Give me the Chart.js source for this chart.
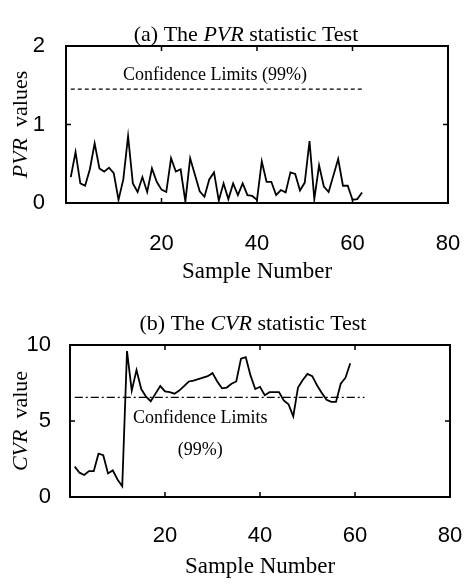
<!DOCTYPE html>
<html>
<head>
<meta charset="utf-8">
<script src="https://cdn.jsdelivr.net/npm/chart.js@4/dist/chart.umd.min.js"></script>
<style>
  body { margin: 0; background: #fff; }
  .panel { position: absolute; left: 0; }
</style>
</head>
<body>
<div class="panel" style="top:0"><canvas id="pvrChart" width="467" height="292"></canvas></div>
<div class="panel" style="top:292px"><canvas id="cvrChart" width="467" height="293"></canvas></div>
<script>
// PVR statistic per sample (panel a)
const pvrValues = [0.33, 0.65, 0.25, 0.22, 0.43, 0.76, 0.44, 0.40, 0.45, 0.38,
  0.04, 0.30, 0.85, 0.25, 0.14, 0.33, 0.14, 0.44, 0.27, 0.17,
  0.14, 0.57, 0.40, 0.43, 0.02, 0.57, 0.36, 0.15, 0.08, 0.30,
  0.39, 0.03, 0.25, 0.05, 0.25, 0.10, 0.25, 0.10, 0.09, 0.04,
  0.53, 0.27, 0.27, 0.10, 0.165, 0.135, 0.39, 0.37, 0.16, 0.26,
  0.79, 0.05, 0.48, 0.21, 0.14, 0.35, 0.56, 0.22, 0.22, 0.04,
  0.05, 0.135];

// CVR statistic per sample (panel b)
const cvrValues = [2.0, 1.6, 1.45, 1.7, 1.7, 2.85, 2.75, 1.55, 1.75, 1.15,
  0.7, 9.6, 7.0, 8.35, 7.1, 6.6, 6.3, 6.8, 7.3, 6.95,
  6.9, 6.8, 7.0, 7.3, 7.6, 7.65, 7.75, 7.85, 7.95, 8.15,
  7.6, 7.15, 7.2, 7.45, 7.6, 9.1, 9.2, 8.0, 7.1, 7.25,
  6.7, 6.9, 6.9, 6.9, 6.35, 6.1, 5.3, 7.2, 7.7, 8.1,
  7.95, 7.35, 6.85, 6.4, 6.26, 6.26, 7.45, 7.85, 8.8];

// 99% confidence limits and the sample span they cover
const pvrLimit = 1.45;
const cvrLimit = 6.55;
const limitSpan = [1, 62];

// axis ranges / ticks
const xTicks = [0, 20, 40, 60, 80];
const pvrTicks = [0, 1, 2];
const cvrTicks = [0, 5, 10];

const SERIF = '"Liberation Serif", "Times New Roman", serif';
const SANS = '"Liberation Sans", Arial, sans-serif';

// draw a line of text made of normal / italic parts, centred on (x, y)
function drawRich(ctx, parts, x, y, size, rotation) {
  ctx.save();
  ctx.translate(x, y);
  if (rotation) ctx.rotate(rotation);
  ctx.fillStyle = '#000';
  ctx.textBaseline = 'alphabetic';
  ctx.textAlign = 'left';
  const fontFor = (it) => (it ? 'italic ' : '') + size + 'px ' + SERIF;
  let total = 0;
  parts.forEach(([t, it]) => { ctx.font = fontFor(it); total += ctx.measureText(t).width; });
  let cx = -total / 2;
  parts.forEach(([t, it]) => {
    ctx.font = fontFor(it);
    ctx.fillText(t, cx, 0);
    cx += ctx.measureText(t).width;
  });
  ctx.restore();
}

// MATLAB-like box with inward ticks, plus the panel texts
const matlabFrame = {
  id: 'matlabFrame',
  afterDatasetsDraw(chart, args, opts) {
    const { ctx, chartArea: a, scales: { x, y } } = chart;
    ctx.save();
    ctx.strokeStyle = '#000';
    ctx.lineWidth = 1.5;
    ctx.beginPath();
    x.ticks.forEach(t => {
      const px = x.getPixelForValue(t.value);
      ctx.moveTo(px, a.bottom); ctx.lineTo(px, a.bottom - 5);
      ctx.moveTo(px, a.top); ctx.lineTo(px, a.top + 5);
    });
    y.ticks.forEach(t => {
      const py = y.getPixelForValue(t.value);
      ctx.moveTo(a.left, py); ctx.lineTo(a.left + 5, py);
      ctx.moveTo(a.right, py); ctx.lineTo(a.right - 5, py);
    });
    ctx.stroke();
    ctx.lineWidth = 2;
    ctx.strokeRect(a.left, a.top, a.right - a.left, a.bottom - a.top);
    ctx.restore();

    // panel title and y axis title
    drawRich(ctx, opts.title, opts.titleX, opts.titleY, 22, 0);
    drawRich(ctx, opts.yTitle, opts.yTitleX, (a.top + a.bottom) / 2 + opts.yTitleShift, 22, -Math.PI / 2);

    // confidence limit labels
    ctx.save();
    ctx.fillStyle = '#000';
    ctx.font = '18px ' + SERIF;
    ctx.textAlign = 'center';
    ctx.textBaseline = 'middle';
    opts.notes.forEach(n => ctx.fillText(n.text, x.getPixelForValue(n.x), y.getPixelForValue(n.y)));
    ctx.restore();
  }
};

function makeChart(id, values, limit, limitDash, yTicks, cfg) {
  const samples = values.map((_, i) => i + 1);
  return new Chart(document.getElementById(id), {
    type: 'line',
    data: {
      datasets: [
        {
          data: samples.map((s, i) => ({ x: s, y: values[i] })),
          borderColor: '#000',
          borderWidth: 1.8,
          pointRadius: 0,
          tension: 0
        },
        {
          data: limitSpan.map(s => ({ x: s, y: limit })),
          borderColor: '#000',
          borderWidth: 1.3,
          borderDash: limitDash,
          pointRadius: 0
        }
      ]
    },
    options: {
      responsive: false,
      animation: false,
      layout: { padding: cfg.padding },
      plugins: {
        legend: { display: false },
        tooltip: { enabled: false },
        matlabFrame: cfg.frame
      },
      scales: {
        x: {
          type: 'linear',
          min: xTicks[0],
          max: xTicks[xTicks.length - 1],
          afterBuildTicks: s => { s.ticks = xTicks.map(v => ({ value: v })); },
          afterFit: s => {
            s.height = cfg.xHeight;
            // plot box is placed by layout padding, not by label overflow
            s.paddingLeft = 0;
            s.paddingRight = 0;
          },
          grid: { display: false },
          border: { display: false },
          ticks: {
            padding: cfg.xTickPad,
            maxRotation: 0,
            color: '#000',
            font: { family: SANS, size: 22 },
            callback: v => (v === 0 ? '' : v)
          },
          title: {
            display: true,
            text: 'Sample Number',
            color: '#000',
            padding: 0,
            font: { family: SERIF, size: 23 }
          }
        },
        y: {
          min: yTicks[0],
          max: yTicks[yTicks.length - 1],
          afterBuildTicks: s => { s.ticks = yTicks.map(v => ({ value: v })); },
          afterFit: s => { s.width = cfg.yWidth; },
          grid: { display: false },
          border: { display: false },
          ticks: {
            padding: cfg.yTickPad,
            color: '#000',
            font: { family: SANS, size: 22 }
          }
        }
      }
    },
    plugins: [matlabFrame]
  });
}

// (a) PVR panel
makeChart('pvrChart', pvrValues, pvrLimit, [4, 3], pvrTicks, {
  padding: { top: 46, left: 0, right: 19, bottom: 6 },
  xHeight: 83, yWidth: 66, xTickPad: 20, yTickPad: 13,
  frame: {
    title: [['(a) The ', false], ['PVR', true], [' statistic Test', false]],
    titleX: 246, titleY: 41,
    yTitle: [['PVR', true], ['  values', false]],
    yTitleX: 27, yTitleShift: 0,
    notes: [{ text: 'Confidence Limits (99%)', x: 31.2, y: 1.63 }]
  }
});

// (b) CVR panel
makeChart('cvrChart', cvrValues, cvrLimit, [8, 3, 2, 3], cvrTicks, {
  padding: { top: 53, left: 0, right: 17, bottom: 4 },
  xHeight: 84, yWidth: 70, xTickPad: 18, yTickPad: 11,
  frame: {
    title: [['(b) The ', false], ['CVR', true], [' statistic Test', false]],
    titleX: 253, titleY: 38,
    yTitle: [['CVR', true], ['  value', false]],
    yTitleX: 27, yTitleShift: 0,
    notes: [
      { text: 'Confidence Limits', x: 27.4, y: 5.2 },
      { text: '(99%)', x: 27.4, y: 3.1 }
    ]
  }
});
</script>
</body>
</html>
